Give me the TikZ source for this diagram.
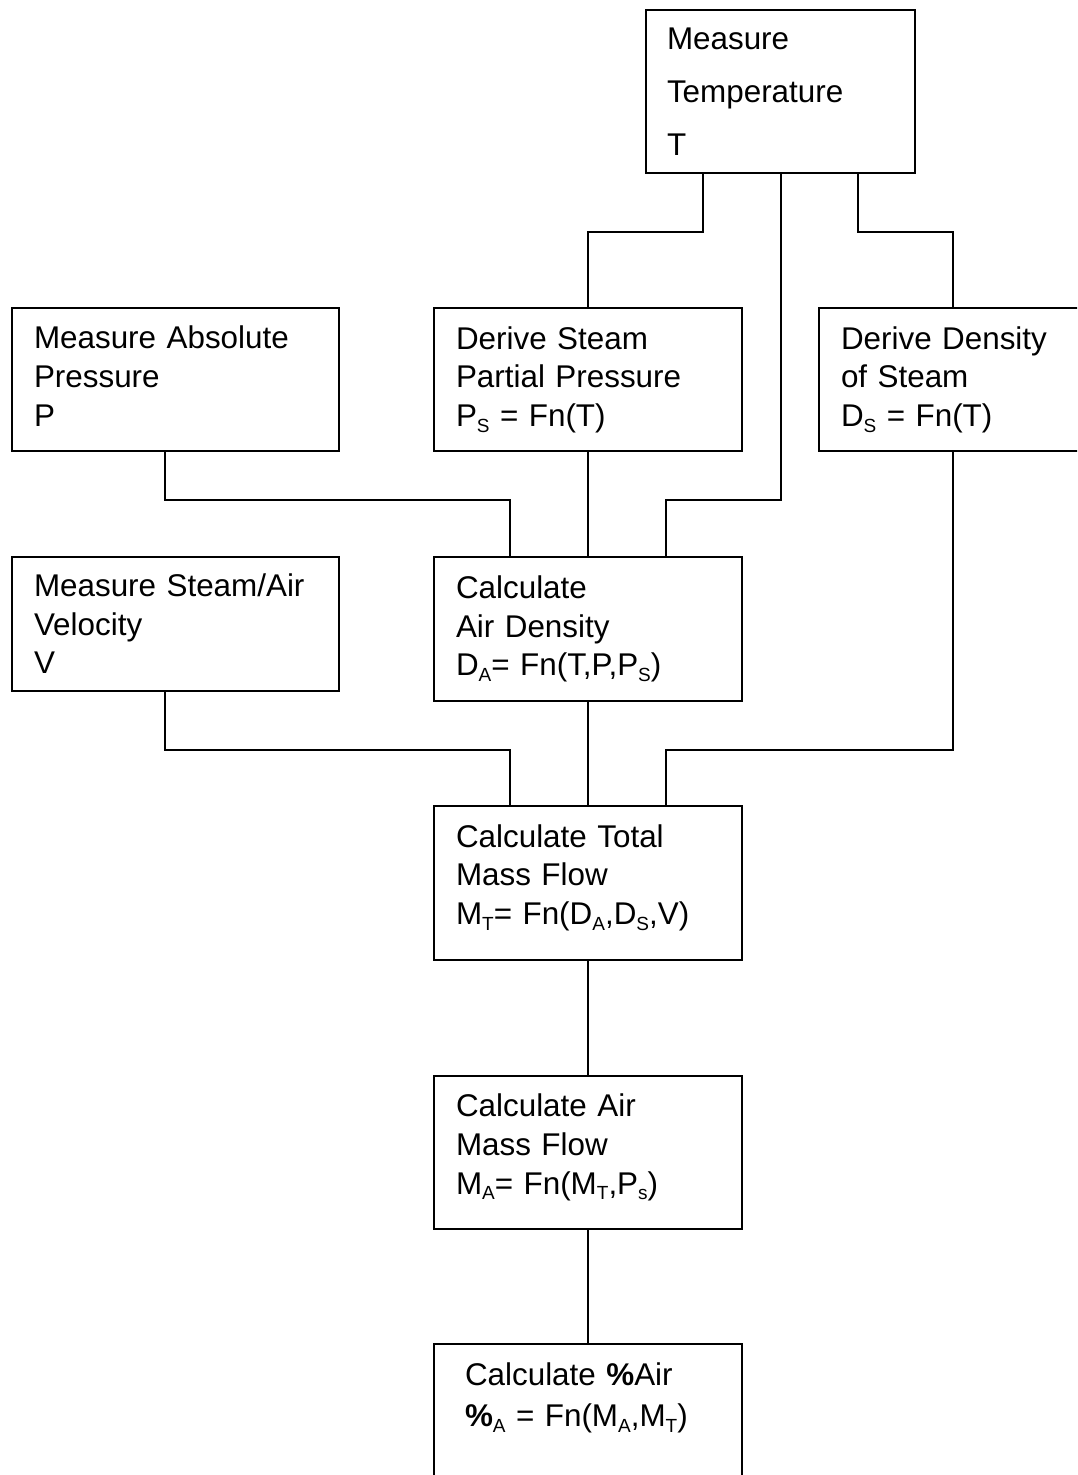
\documentclass[tikz,border=0pt]{standalone}
\usepackage{fontspec}
\setmainfont{Liberation Sans}
\newcommand\sbs[1]{\raisebox{-0.35ex}{\fontsize{9.5}{9.5}\selectfont #1}}

\begin{document}
\begin{tikzpicture}[x=0.5pt,y=-0.5pt,line width=1pt,
  box/.style={draw,anchor=north west,align=left,inner xsep=11pt,inner ysep=0pt,
    font=\fontsize{15.7}{19.3}\selectfont}]
\useasboundingbox (0,0) rectangle (1077,1475);
\clip (0,0) rectangle (1077,1475);
\node[box,text width=113.5pt,inner xsep=10.5pt,minimum height=81.5pt,
  font=\fontsize{15.7}{26.5}\selectfont](temp) at (645,9) {Measure\\Temperature\\T};
\node[box,text width=141.5pt,minimum height=71.5pt,text depth=42pt](abs) at (11,307) {Measure Absolute\\Pressure\\P};
\node[box,text width=132pt,minimum height=71.5pt](spp) at (433,307) {Derive Steam\\Partial Pressure\\P\sbs{S} = Fn(T)};
\node[box,text width=112pt,minimum height=71.5pt](dens) at (818,307) {Derive Density\\of Steam\\D\sbs{S} = Fn(T)};
\node[box,text width=141.5pt,minimum height=67pt](vel) at (11,556) {Measure Steam/Air\\Velocity\\V};
\node[box,text width=132pt,minimum height=72pt](aird) at (433,556) {Calculate\\Air Density\\D\sbs{A}= Fn(T,P,P\sbs{S})};
\node[box,text width=132pt,minimum height=77pt,text depth=47pt](tot) at (433,805) {Calculate Total\\Mass Flow\\M\sbs{T}= Fn(D\sbs{A},D\sbs{S},V)};
\node[box,text width=132pt,minimum height=76.5pt,text depth=47pt](airm) at (433,1075) {Calculate Air\\Mass Flow\\M\sbs{A}= Fn(M\sbs{T},P\sbs{s})};
\node[box,text width=123pt,inner xsep=15.5pt,inner ysep=9.5pt,text depth=90pt](pct) at (433,1343) {Calculate \textbf{\%}Air\\[1pt]\textbf{\%}\sbs{A} = Fn(M\sbs{A},M\sbs{T})};

\draw ([xshift=29pt]temp.south west)--++(0,58)-|(spp.north);
\draw (temp.south)--++(0,326)-|([xshift=-38.5pt]aird.north east);
\draw ([xshift=-29pt]temp.south east)--++(0,58)-|(dens.north);

\draw ([xshift=77pt]abs.south west)--++(0,48)-|([xshift=38.5pt]aird.north west);
\draw (spp.south)--(aird.north);

\draw ([xshift=77pt]vel.south west)--++(0,58)-|([xshift=38.5pt]tot.north west);
\draw (aird.south)--(tot.north);
\draw (dens.south)--++(0,298)-|([xshift=-38.5pt]tot.north east);

\draw (tot.south)--(airm.north);
\draw (airm.south)--(pct.north);
\end{tikzpicture}
\end{document}
